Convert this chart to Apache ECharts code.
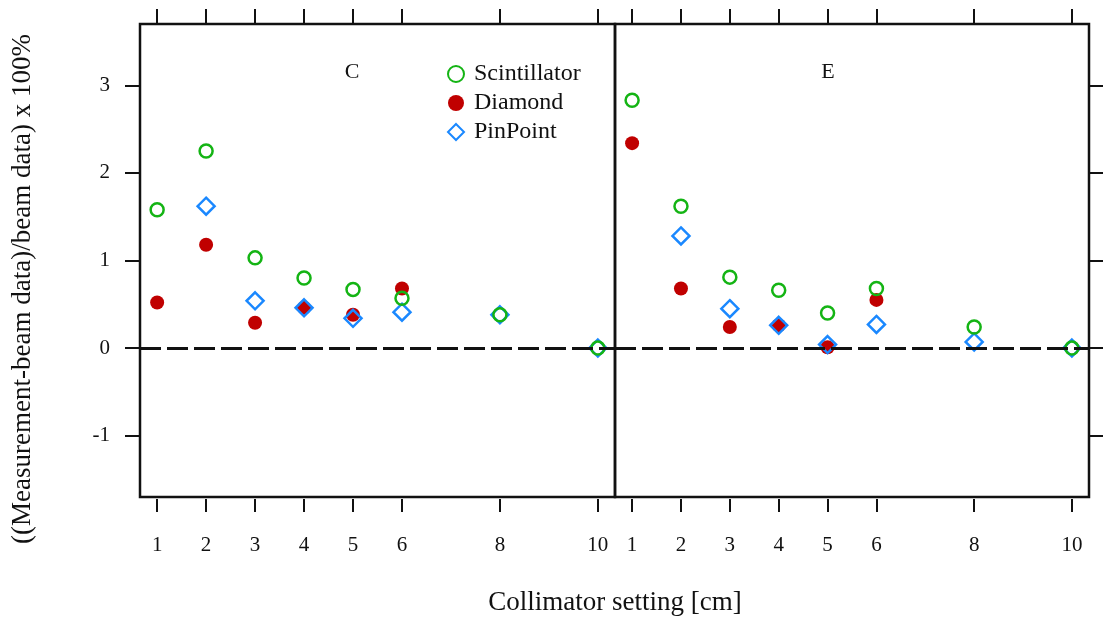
<!DOCTYPE html>
<html>
<head>
<meta charset="utf-8">
<script src="https://cdn.jsdelivr.net/npm/echarts@6/dist/echarts.min.js"></script>
<style>
  html, body { margin: 0; padding: 0; background: #fff; }
  #chart { width: 1105px; height: 619px; }
</style>
</head>
<body>
<div id="chart"></div>
<script>
// collimator settings (cm) and tick values
const settings = [1, 2, 3, 4, 5, 6, 8, 10];
const xTicks = [1, 2, 3, 4, 5, 6, 8, 10];
const yTicks = [-1, 0, 1, 2, 3];

// panel C
const scintC = [1.58, 2.25, 1.03, 0.80, 0.67, 0.57, 0.38, 0];
const diamondC = [0.52, 1.18, 0.29, 0.46, 0.38, 0.68, null, null];
const pinpointC = [null, 1.62, 0.54, 0.46, 0.34, 0.41, 0.38, 0];

// panel E
const scintE = [2.83, 1.62, 0.81, 0.66, 0.40, 0.68, 0.24, 0];
const diamondE = [2.34, 0.68, 0.24, 0.26, 0.01, 0.55, null, null];
const pinpointE = [null, 1.28, 0.45, 0.26, 0.04, 0.27, 0.07, 0];

const font = '"Liberation Serif", "DejaVu Serif", serif';
const green = '#14b414', red = '#c00000', blue = '#1a88ff';

function pairs(vals) {
  let out = [];
  vals.forEach((v, i) => { if (v !== null) out.push([settings[i], v]); });
  return out;
}

let myChart = echarts.init(document.getElementById('chart'));

function xAxes(grid) {
  return [{
    gridIndex: grid, type: 'value', position: 'bottom', min: 0.65, max: 10.35, offset: 2,
    axisLine: { show: false, onZero: false },
    axisTick: { show: true, length: 13, inside: false, customValues: xTicks, lineStyle: { color: '#111', width: 2 } },
    axisLabel: { customValues: xTicks, color: '#111', fontFamily: font, fontSize: 21, margin: 36 },
    splitLine: { show: false }
  }, {
    gridIndex: grid, type: 'value', position: 'top', min: 0.65, max: 10.35,
    axisLine: { show: false, onZero: false },
    axisTick: { show: true, length: 15, customValues: xTicks, lineStyle: { color: '#111', width: 2 } },
    axisLabel: { show: false },
    splitLine: { show: false }
  }];
}

function scatter(name, data, xi, yi, kind) {
  let s = { name: name, type: 'scatter', xAxisIndex: xi, yAxisIndex: yi, data: pairs(data) };
  if (kind === 'red') {
    s.symbol = 'circle'; s.symbolSize = 14;
    s.itemStyle = { color: red, opacity: 1 };
  } else if (kind === 'blue') {
    s.symbol = 'diamond'; s.symbolSize = 17;
    s.itemStyle = { color: 'rgba(255,255,255,0)', borderColor: blue, borderWidth: 2.5, opacity: 1 };
  } else {
    s.symbol = 'circle'; s.symbolSize = 13;
    s.itemStyle = { color: 'rgba(255,255,255,0)', borderColor: green, borderWidth: 2.5, opacity: 1 };
  }
  return s;
}

const zeroLine = {
  silent: true, symbol: 'none', label: { show: false },
  lineStyle: { color: '#111', width: 3, type: [21, 6] },
  data: [{ yAxis: 0 }]
};

let option = {
  animation: false,
  grid: [
    { left: 140, right: 490, top: 24, bottom: 122, show: true, borderColor: '#111', borderWidth: 2.5, backgroundColor: 'transparent' },
    { left: 615, right: 16, top: 24, bottom: 122, show: true, borderColor: '#111', borderWidth: 2.5, backgroundColor: 'transparent' }
  ],
  xAxis: xAxes(0).concat(xAxes(1)),
  yAxis: [{
    gridIndex: 0, type: 'value', position: 'left', min: -1.7, max: 3.7,
    axisLine: { show: false, onZero: false },
    axisTick: { show: true, length: 15, customValues: yTicks, lineStyle: { color: '#111', width: 2 } },
    axisLabel: { customValues: yTicks, color: '#111', fontFamily: font, fontSize: 21, margin: 30 },
    splitLine: { show: false }
  }, {
    gridIndex: 1, type: 'value', position: 'right', min: -1.7, max: 3.7,
    axisLine: { show: false, onZero: false },
    axisTick: { show: true, length: 14, customValues: yTicks, lineStyle: { color: '#111', width: 2 } },
    axisLabel: { show: false },
    splitLine: { show: false }
  }],
  legend: {
    orient: 'vertical', left: 442, top: 57, itemGap: 5, itemWidth: 16, itemHeight: 16,
    textStyle: { fontFamily: font, fontSize: 24, color: '#111', padding: [0, 0, 0, 5] },
    data: ['Scintillator', 'Diamond', 'PinPoint']
  },
  series: [
    Object.assign(scatter('Diamond', diamondC, 0, 0, 'red'), { markLine: zeroLine }),
    scatter('PinPoint', pinpointC, 0, 0, 'blue'),
    scatter('Scintillator', scintC, 0, 0, 'green'),
    Object.assign(scatter('Diamond', diamondE, 2, 1, 'red'), { markLine: zeroLine }),
    scatter('PinPoint', pinpointE, 2, 1, 'blue'),
    scatter('Scintillator', scintE, 2, 1, 'green')
  ],
  graphic: [
    { type: 'text', x: 352, y: 72, style: { text: 'C', font: '22px ' + font, fill: '#111', align: 'center', verticalAlign: 'middle' } },
    { type: 'text', x: 828, y: 72, style: { text: 'E', font: '22px ' + font, fill: '#111', align: 'center', verticalAlign: 'middle' } },
    { type: 'text', x: 615, y: 603, style: { text: 'Collimator setting [cm]', font: '27px ' + font, fill: '#111', align: 'center', verticalAlign: 'middle' } },
    { type: 'text', x: 23, y: 289, rotation: Math.PI / 2, style: { text: '((Measurement-beam data)/beam data) x 100%', font: '27px ' + font, fill: '#111', align: 'center', verticalAlign: 'middle' } }
  ]
};

myChart.setOption(option, true);
window.addEventListener('resize', () => { myChart.resize(); });
</script>
</body>
</html>
